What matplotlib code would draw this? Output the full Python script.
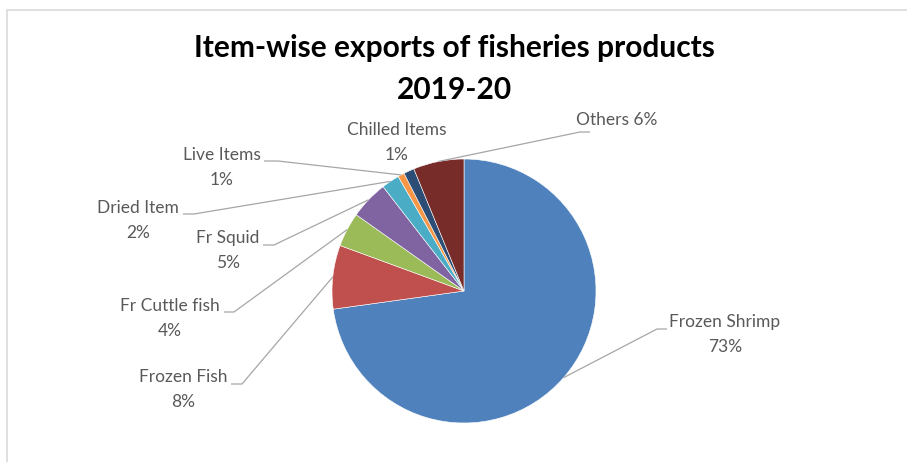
import numpy as np
import matplotlib
matplotlib.use("Agg")
import matplotlib.pyplot as plt
from matplotlib.patches import Rectangle

# Data (share of exports, %), drawn clockwise from 12 o'clock
items = ["Frozen Shrimp", "Frozen Fish", "Fr Cuttle fish", "Fr Squid",
         "Dried Item", "Live Items", "Chilled Items", "Others"]
shares = [72.8, 7.8, 4.2, 4.7, 2.2, 0.8, 1.3, 6.2]
colors = ["#4F81BD", "#C0504D", "#9BBB59", "#8064A2",
          "#4BACC6", "#F79646", "#2C4D75", "#772C2A"]

W, H = 907, 462
TEXT = "#595959"
FONT = "Lato"
LBL_SIZE = 12.5

# label layout in pixel coords from the top-left: (text centre x, first line y, elbow x, elbow y, line end x)
label_pos = {
    "Frozen Shrimp": (725, 322, 657, 329, 667),
    "Frozen Fish": (183, 377, 242, 384, 231),
    "Fr Cuttle fish": (170, 306, 234, 312, 224),
    "Fr Squid": (228, 238, 274, 245, 263),
    "Dried Item": (138, 208, 194, 214, 183),
    "Live Items": (222, 155, 278, 161, 264),
    "Chilled Items": (397, 130, None, None, None),
    "Others": (617, 120, 580, 132, 590),
}

fig = plt.figure(figsize=(W / 100, H / 100), dpi=100)
ax = fig.add_axes([0, 0, 1, 1])
ax.set_xlim(0, W)
ax.set_ylim(0, H)
ax.set_aspect("equal")
ax.axis("off")

# chart frame (only top and left edges visible in the crop)
ax.add_patch(Rectangle((7, -20), 1000, H - 10 + 20, fill=False,
                       edgecolor="#D9D9D9", linewidth=1.2))

cx, cy, r = 464, H - 291, 132
wedges, _ = ax.pie(shares, colors=colors, startangle=90, counterclock=False,
                   center=(cx, cy), radius=r,
                   wedgeprops=dict(edgecolor="white", linewidth=0.4))
ax.set_xlim(0, W)
ax.set_ylim(0, H)

total = sum(shares)
for name, val, w in zip(items, shares, wedges):
    tx, ty, ex, ey, lx = label_pos[name]
    pct = f"{round(val / total * 100):d}%"
    if name == "Others":
        ax.text(tx, H - ty, f"{name} {pct}", ha="center", va="center",
                fontsize=LBL_SIZE, color=TEXT, family=FONT)
    else:
        ax.text(tx, H - ty, name, ha="center", va="center",
                fontsize=LBL_SIZE, color=TEXT, family=FONT)
        ax.text(tx, H - ty - 25, pct, ha="center", va="center",
                fontsize=LBL_SIZE, color=TEXT, family=FONT)
    if ex is None:
        continue
    mid = np.deg2rad((w.theta1 + w.theta2) / 2)
    px = cx + r * np.cos(mid)
    py = cy + r * np.sin(mid)
    ax.plot([px, ex, lx], [py, H - ey, H - ey], color="#A6A6A6",
            linewidth=0.9, solid_capstyle="butt")

ax.text(454, H - 48, "Item-wise exports of fisheries products", ha="center",
        va="center", fontsize=21.5, fontweight="bold", color="black", family=FONT)
ax.text(454, H - 90, "2019-20", ha="center", va="center",
        fontsize=21.5, fontweight="bold", color="black", family=FONT)

fig.savefig("out.png", dpi=100)
